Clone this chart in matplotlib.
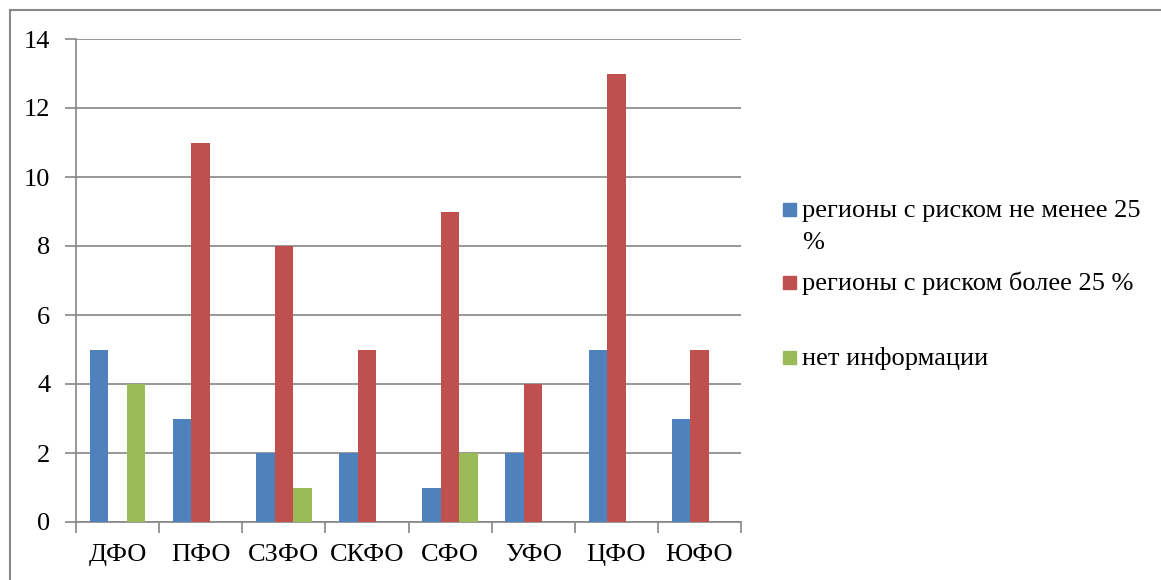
import matplotlib
matplotlib.use("Agg")

import matplotlib.pyplot as plt
from matplotlib.lines import Line2D
from matplotlib.patches import Rectangle
import numpy as np

districts = ["ДФО", "ПФО", "СЗФО", "СКФО", "СФО", "УФО", "ЦФО", "ЮФО"]
risk_not_less_25 = [5, 3, 2, 2, 1, 2, 5, 3]
risk_more_25 = [0, 11, 8, 5, 9, 4, 13, 5]
no_info = [4, 0, 1, 0, 2, 0, 0, 0]

series_labels = ["регионы с риском не менее 25\n%",
                 "регионы с риском более 25 %",
                 "нет информации"]
series_colors = ["#4F81BD", "#C0504D", "#9BBB59"]
y_ticks = [0, 2, 4, 6, 8, 10, 12, 14]

GRID = "#868686"
W, H = 1161, 580
FS = 19

plt.rcParams["font.family"] = ["Liberation Serif", "DejaVu Serif"]

fig = plt.figure(figsize=(W / 100, H / 100), dpi=100)
fig.patch.set_facecolor("white")
ax = fig.add_axes([76 / W, 1 - 522 / H, (741 - 76) / W, (522 - 39) / H])

x = np.arange(len(districts))
bw = 1 / 4.5  # three bars plus 150 % gap per category
for k, vals in enumerate([risk_not_less_25, risk_more_25, no_info]):
    ax.bar(x + (k - 1) * bw, vals, width=bw, color=series_colors[k],
           linewidth=0, zorder=3)

ax.set_xlim(-0.5, len(districts) - 0.5)
ax.set_ylim(0, 14)
ax.set_yticks(y_ticks)
ax.set_yticklabels([str(v) for v in y_ticks])
ax.set_xticks(x)
ax.set_xticklabels(districts)
ax.set_xticks(np.arange(len(districts) + 1) - 0.5, minor=True)

ax.yaxis.grid(True, color=GRID, linewidth=1.2, zorder=0)
for s in ("top", "right"):
    ax.spines[s].set_visible(False)
for s in ("left", "bottom"):
    ax.spines[s].set_color(GRID)
    ax.spines[s].set_linewidth(1.2)

ax.tick_params(axis="y", length=8, width=1.2, color=GRID, pad=10.5,
               labelsize=FS)
ax.tick_params(axis="x", which="major", length=0, pad=16, labelsize=FS)
ax.tick_params(axis="x", which="minor", length=8, width=1.2, color=GRID)

# legend drawn by hand so the marker sits beside the first text line
baselines = [217, 290, 365]
line_step = 32
for lbl, col, base in zip(series_labels, series_colors, baselines):
    fig.add_artist(Rectangle((783 / W, 1 - (base - 1) / H), 13 / W, 13 / H,
                             transform=fig.transFigure, color=col))
    for i, part in enumerate(lbl.split("\n")):
        fig.text(802 / W, 1 - (base + i * line_step) / H, part, fontsize=FS,
                 va="baseline", ha="left")

# outer chart frame
fig.add_artist(Line2D([9.5 / W, 9.5 / W], [0, 1 - 10 / H],
                      transform=fig.transFigure, color="#888888", lw=1.5))
fig.add_artist(Line2D([9.5 / W, 1], [1 - 10 / H, 1 - 10 / H],
                      transform=fig.transFigure, color="#888888", lw=1.5))

fig.savefig("out.png", dpi=100)
plt.close(fig)
